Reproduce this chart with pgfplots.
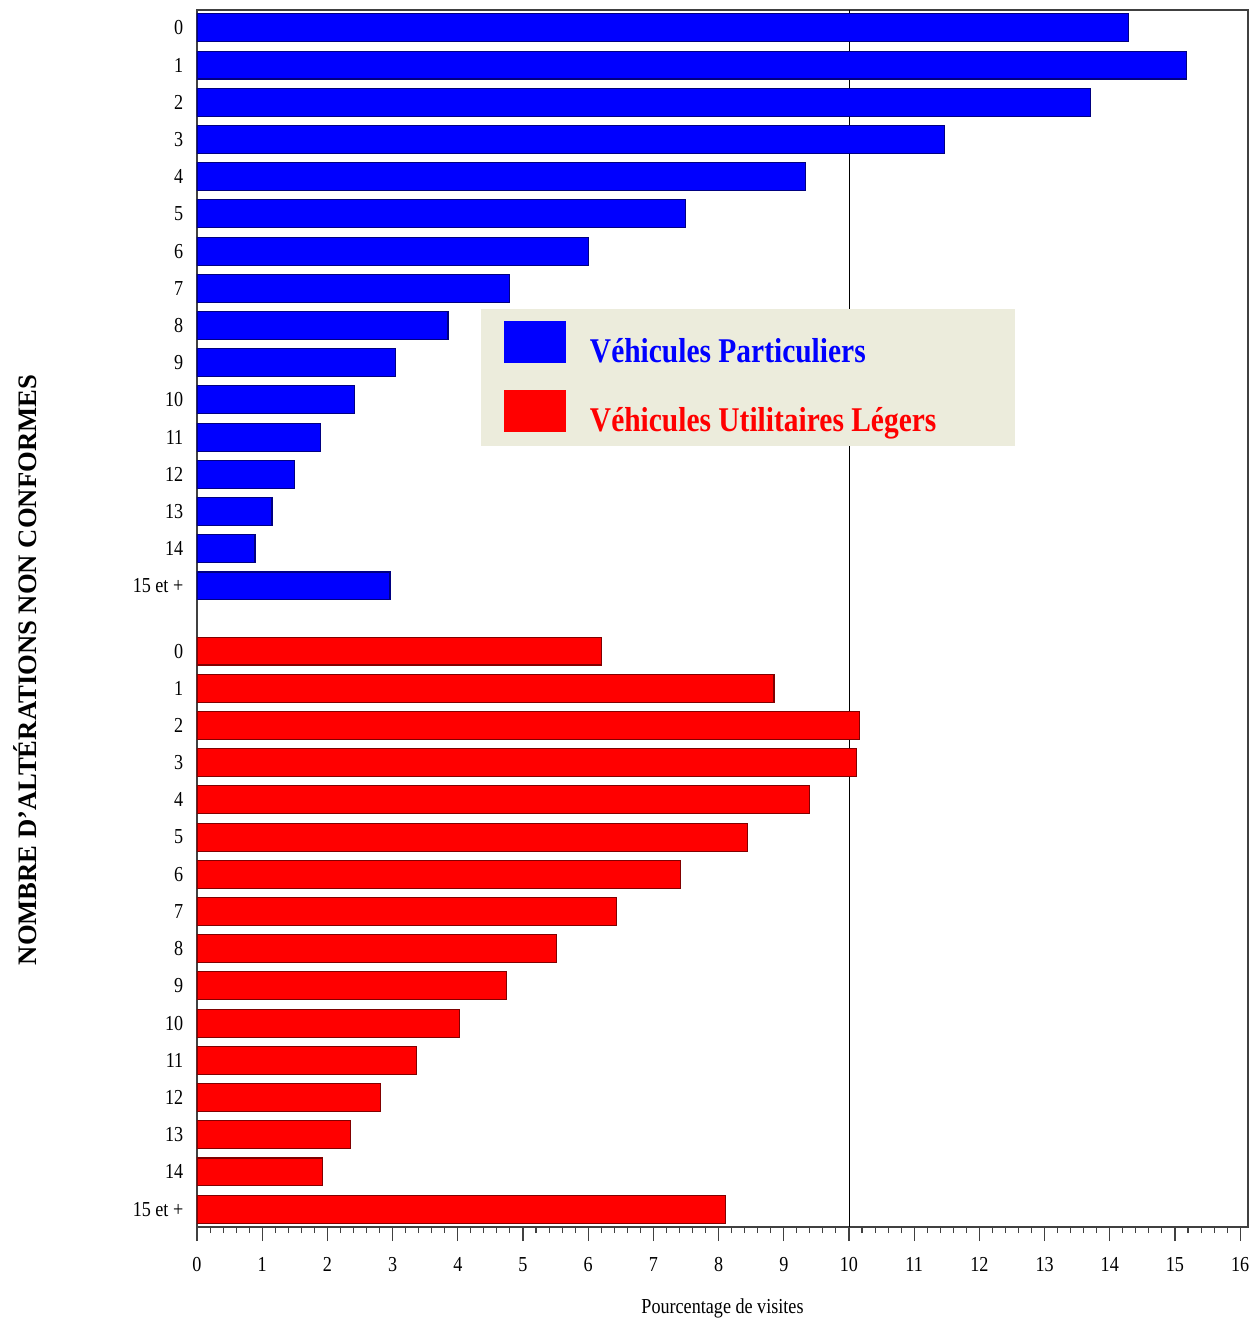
\documentclass[border=0pt]{standalone}
\usepackage{fontspec}
\setmainfont{Liberation Serif}[FakeStretch=0.85]
\newfontfamily\ylabfont{Liberation Serif}
\usepackage{pgfplots}
\pgfplotsset{compat=1.18}
\definecolor{legbg}{HTML}{ECECDC}
\definecolor{vpblue}{HTML}{0000FF}
\definecolor{vpedge}{HTML}{000080}
\definecolor{vured}{HTML}{FF0000}
\definecolor{vuedge}{HTML}{800000}

\begin{document}
\begin{tikzpicture}
\begin{axis}[
    name=ax,
    scale only axis,
    width=788.25pt, height=912.75pt,
    xmin=0, xmax=16.12,
    ymin=-32.23, ymax=0.48,
    xtick={0,1,...,16},
    minor x tick num=4,
    xtick pos=lower,
    tick align=outside,
    major tick length=10.5pt,
    minor tick length=4.5pt,
    xtick style={black!75, line width=0.8pt},
    xticklabel style={yshift=-9pt},
    ytick={-31.75,-30.75,-29.75,-28.75,-27.75,-26.75,-25.75,-24.75,-23.75,-22.75,-21.75,-20.75,-19.75,-18.75,-17.75,-16.75,
           -15,-14,-13,-12,-11,-10,-9,-8,-7,-6,-5,-4,-3,-2,-1,0},
    yticklabels={15 et +,14,13,12,11,10,9,8,7,6,5,4,3,2,1,0,
                 15 et +,14,13,12,11,10,9,8,7,6,5,4,3,2,1,0},
    ytick style={draw=none},
    yticklabel style={xshift=3.75pt},
    ticklabel style={font=\fontsize{16}{19}\selectfont},
    /pgf/number format/assume math mode=true,
    axis line style={black!75, line width=0.8pt},
    extra x ticks={10},
    extra x tick labels={},
    extra x tick style={grid=major, minor tick num=0, major tick length=0pt,
        major grid style={black, line width=0.6pt}},
    legend style={at={(axis description cs:0.2702,0.7543)}, anchor=north west,
        fill=legbg, draw=none, inner xsep=17pt, inner ysep=9pt, row sep=19pt,
        font=\fontsize{26}{31}\selectfont\bfseries,
        nodes={inner sep=0pt, anchor=base west},
        /tikz/every odd column/.append style={column sep=18pt}},
    legend cell align=left,
]
% Vehicules particuliers
\addplot[xbar, bar width=0.75, bar shift=0pt, fill=vpblue, draw=vpedge, line width=0.8pt,
    legend image code/.code={\fill[vpblue] (0pt,0pt) rectangle (45.75pt,30.75pt);}]
coordinates {(14.28,0) (15.17,-1) (13.70,-2) (11.47,-3) (9.33,-4) (7.49,-5) (6.01,-6) (4.80,-7)
             (3.85,-8) (3.04,-9) (2.41,-10) (1.89,-11) (1.49,-12) (1.15,-13) (0.89,-14) (2.96,-15)};
\addlegendentry{\textcolor{vpblue}{Véhicules Particuliers}}
% Vehicules utilitaires legers
\addplot[xbar, bar width=0.75, bar shift=0pt, fill=vured, draw=vuedge, line width=0.8pt,
    legend image code/.code={\fill[vured] (0pt,0pt) rectangle (45.75pt,30.75pt);}]
coordinates {(6.20,-16.75) (8.85,-17.75) (10.16,-18.75) (10.12,-19.75) (9.40,-20.75) (8.45,-21.75)
             (7.42,-22.75) (6.43,-23.75) (5.52,-24.75) (4.74,-25.75) (4.02,-26.75) (3.37,-27.75)
             (2.82,-28.75) (2.35,-29.75) (1.93,-30.75) (8.11,-31.75)};
\addlegendentry{\textcolor{vured}{Véhicules Utilitaires Légers}\hspace*{42pt}}
\end{axis}
\node[rotate=90, font=\ylabfont\bfseries\fontsize{20}{24}\selectfont]
    at ([xshift=-129pt, yshift=417.75pt]ax.south west) {NOMBRE D’ALTÉRATIONS NON CONFORMES};
\node[font=\fontsize{16}{19}\selectfont] at ([yshift=-60.75pt]ax.south) {Pourcentage de visites};
\pgfresetboundingbox
\path ([xshift=-147.75pt,yshift=-69pt]ax.south west) rectangle ([xshift=8.25pt,yshift=7.5pt]ax.north east);
\end{tikzpicture}
\end{document}
